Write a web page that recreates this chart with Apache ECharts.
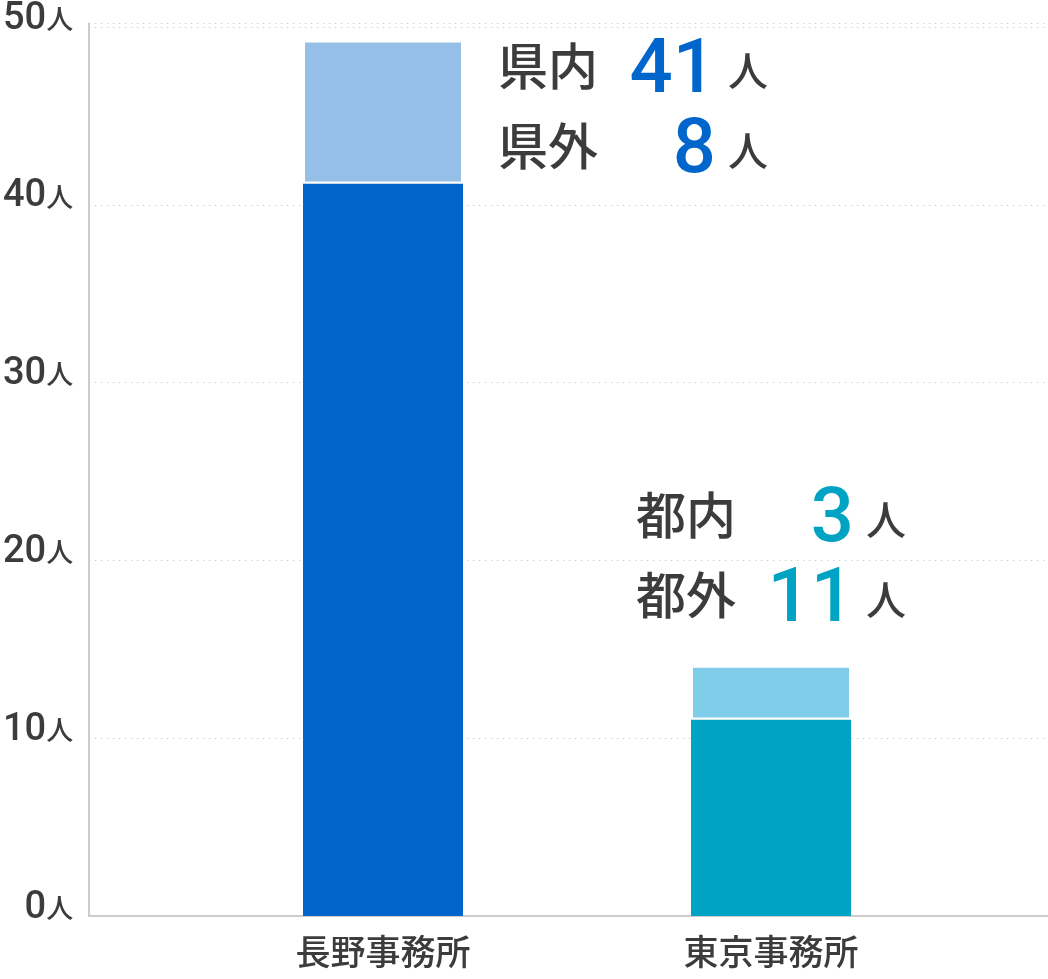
<!DOCTYPE html>
<html>
<head>
<meta charset="utf-8">
<title>事務所別人数</title>
<script src="https://cdn.jsdelivr.net/npm/echarts@6/dist/echarts.min.js"></script>
<style>
    html, body { margin: 0; padding: 0; background: #fff; }
    #chart { width: 1048px; height: 979px; }
</style>
</head>
<body>
<div id="chart"></div>
<script>
// 事務所ごとの人数（下段・上段の積み上げ）
var offices = ['長野事務所', '東京事務所'];
var lowerValues = [41, 11];
var upperValues = [8, 3];
// 棒の横に出す内訳
var noteNames = [['県内', '県外'], ['都内', '都外']];
var noteCounts = [[41, 8], [3, 11]];
var yTicks = [0, 10, 20, 30, 40, 50];

var lowerColors = ['#0066cc', '#00a3c4'];
var upperColors = ['#96bfe8', '#80cdea'];
var noteColors = ['#0066cc', '#00a3c4'];

var TEXT = '#3c3c3e';
var FONT = 'Roboto, "Noto Sans CJK JP", sans-serif';

var chart = echarts.init(document.getElementById('chart'));

function noteText(i) {
    return noteNames[i].map(function (nm, k) {
        return '{name|' + nm + '}{num' + i + '|' + noteCounts[i][k] + '}{unit|人}';
    }).join('\n');
}

var noteRich = {
    name: { fontSize: 50, fontWeight: 500, color: TEXT, width: 100, align: 'left', lineHeight: 80, fontFamily: FONT },
    unit: { fontSize: 40, fontWeight: 500, color: TEXT, lineHeight: 80, align: 'right', padding: [6, 0, 0, 12], fontFamily: FONT },
    num0: { fontSize: 76, fontWeight: 500, color: noteColors[0], width: 118, align: 'right', lineHeight: 80, fontFamily: FONT },
    num1: { fontSize: 76, fontWeight: 500, color: noteColors[1], width: 118, align: 'right', lineHeight: 80, fontFamily: FONT }
};

var notePos = [
    { position: 'right', distance: 35, offset: [0, 1] },
    { position: 'top', distance: 24 }
];

var option = {
    animation: false,
    grid: [
        { left: 88, right: 0, top: 19, bottom: 63 },
        { left: 189, right: 83, top: 19, bottom: 63 }
    ],
    xAxis: [
        {
            gridIndex: 0, type: 'category', data: [''],
            axisLine: { lineStyle: { color: '#cccccc', width: 2 } },
            axisTick: { show: false }, axisLabel: { show: false }
        },
        {
            gridIndex: 1, type: 'category', data: offices,
            axisLine: { show: false }, axisTick: { show: false },
            axisLabel: { color: TEXT, fontSize: 35, fontWeight: 500, margin: 23, fontFamily: FONT }
        }
    ],
    yAxis: [
        {
            gridIndex: 0, type: 'value', min: 0, max: 50.2, interval: 10,
            axisLine: { show: true, lineStyle: { color: '#cccccc', width: 2 } },
            axisTick: { show: false },
            splitLine: { lineStyle: { color: '#bbbbbb', width: 1, type: [1, 5] } },
            axisLabel: {
                margin: 16,
                padding: [0, 0, 16, 0],
                formatter: function (v) {
                    return yTicks.indexOf(v) >= 0 ? '{n|' + v + '}{u|人}' : '';
                },
                rich: {
                    n: { fontSize: 38, fontWeight: 500, color: TEXT, fontFamily: FONT },
                    u: { fontSize: 27, fontWeight: 500, color: TEXT, padding: [6, 0, 0, 0], fontFamily: FONT }
                }
            }
        },
        { gridIndex: 1, type: 'value', min: 0, max: 50.2, interval: 10, show: false }
    ],
    series: [
        {
            type: 'bar', xAxisIndex: 1, yAxisIndex: 1, stack: 'total', barWidth: 160,
            data: lowerValues.map(function (v, i) {
                return { value: v, itemStyle: { color: lowerColors[i] } };
            })
        },
        {
            type: 'bar', xAxisIndex: 1, yAxisIndex: 1, stack: 'total', barWidth: 160,
            data: upperValues.map(function (v, i) {
                return {
                    value: v,
                    itemStyle: { color: upperColors[i], borderColor: '#ffffff', borderWidth: 2 },
                    label: Object.assign({
                        show: true,
                        formatter: noteText(i),
                        rich: noteRich
                    }, notePos[i])
                };
            })
        }
    ]
};

chart.setOption(option);
window.onresize = chart.resize;
</script>
</body>
</html>
